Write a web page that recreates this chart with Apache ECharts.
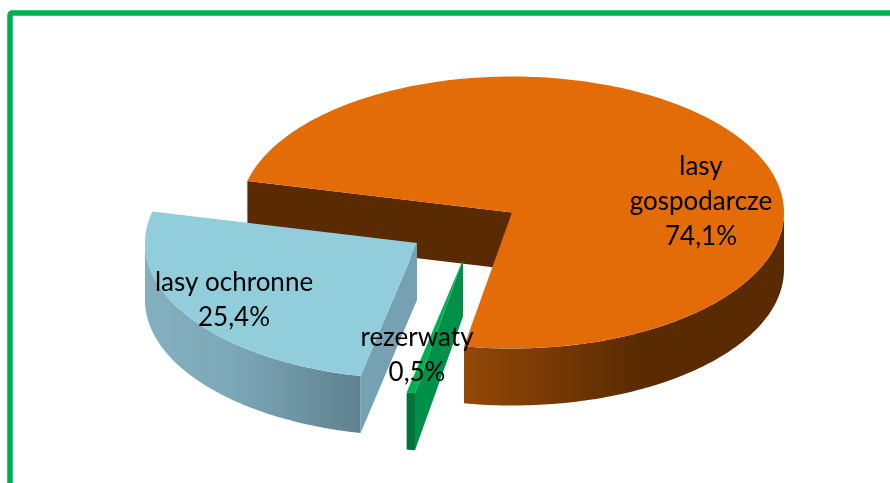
<!DOCTYPE html>
<html>
<head>
<meta charset="utf-8">
<style>html,body{margin:0;padding:0;background:#fff}#c{width:890px;height:483px}</style>
<script src="https://cdn.jsdelivr.net/npm/echarts@6/dist/echarts.min.js"></script>
</head>
<body>
<div id="c"></div>
<script>
// Data (clockwise from the cut at the upper left)
var categories = ['lasy\ngospodarcze', 'rezerwaty', 'lasy ochronne'];
var shares = [74.1, 0.5, 25.4];

// Layout and style
var cx = 512, cy = 212.5, rx = 272, ry = 136, depth = 57, startDeg = 283.4;
var offsets = [[0, 0], [-49, 47], [-95, 30.5]];
var labelCentres = [[701, 202], [417, 355], [234, 300]];
var topColors = ['#E36C09', '#00B050', '#92CDDC'];
var cutColors = ['#5A2A03', '#00904A', '#76A1B2'];
var wallStops = [
  [{ offset: 0, color: '#934808' }, { offset: 0.55, color: '#5A2A03' }, { offset: 1, color: '#5A2A03' }],
  [{ offset: 0, color: '#00733A' }, { offset: 1, color: '#00733A' }],
  [{ offset: 0, color: '#84AFBF' }, { offset: 0.4, color: '#7DA8B8' }, { offset: 1, color: '#5E828F' }]
];

var chart = echarts.init(document.getElementById('c'));

function pt(ox, oy, deg, dz) {
  var a = deg * Math.PI / 180;
  return [ox + rx * Math.sin(a), oy - ry * Math.cos(a) + (dz || 0)];
}
function arc(ox, oy, from, to, dz) {
  var pts = [], n = Math.max(2, Math.ceil(Math.abs(to - from)));
  for (var k = 0; k <= n; k++) pts.push(pt(ox, oy, from + (to - from) * k / n, dz));
  return pts;
}
function sliceAngles(i) {
  var total = shares.reduce(function (s, v) { return s + v; }, 0), a = startDeg;
  for (var k = 0; k < i; k++) a += shares[k] / total * 360;
  return [a, a + shares[i] / total * 360];
}
function renderSlice(params, api) {
  var i = params.dataIndex;
  var ang = sliceAngles(i), s = ang[0], e = ang[1];
  var ox = cx + offsets[i][0], oy = cy + offsets[i][1];
  var kids = [];
  // curved wall: only the part facing the viewer
  for (var c = 0; c < 2; c++) {
    var lo = Math.max(s, 90 + c * 360), hi = Math.min(e, 270 + c * 360);
    if (hi > lo) {
      var top = arc(ox, oy, lo, hi, 0), bot = arc(ox, oy, hi, lo, depth);
      kids.push({
        type: 'polygon', shape: { points: top.concat(bot) },
        style: { fill: new echarts.graphic.LinearGradient(0, 0, 1, 0, wallStops[i]) }
      });
    }
  }
  // cut faces
  [[s, -1], [e, 1]].forEach(function (edge) {
    var a = edge[0] * Math.PI / 180;
    if (edge[1] * Math.sin(a) > 0) {
      var p = pt(ox, oy, edge[0], 0);
      kids.push({
        type: 'polygon',
        shape: { points: [[ox, oy], p, [p[0], p[1] + depth], [ox, oy + depth]] },
        style: { fill: cutColors[i] }
      });
    }
  });
  // top face
  kids.push({
    type: 'polygon', shape: { points: [[ox, oy]].concat(arc(ox, oy, s, e, 0)) },
    style: { fill: topColors[i] }
  });
  return { type: 'group', children: kids };
}
function renderLabel(params, api) {
  var i = params.dataIndex;
  return {
    type: 'text',
    x: labelCentres[i][0], y: labelCentres[i][1],
    style: {
      text: categories[i] + '\n' + api.value(0).toFixed(1).replace('.', ',') + '%',
      fontFamily: 'Lato', fontSize: 26, lineHeight: 35,
      fill: '#000', align: 'center', verticalAlign: 'middle'
    }
  };
}
var seriesData = shares.map(function (v) { return [v]; });
chart.setOption({
  animation: false,
  backgroundColor: '#fff',
  graphic: [{
    type: 'rect', z: 0, silent: true,
    shape: { x: 10, y: 13, width: 1000, height: 1000, r: 2 },
    style: { fill: 'none', stroke: '#00B050', lineWidth: 5.5 }
  }],
  series: [
    { type: 'custom', coordinateSystem: 'none', silent: true, z: 2, data: seriesData, renderItem: renderSlice },
    { type: 'custom', coordinateSystem: 'none', silent: true, z: 3, data: seriesData, renderItem: renderLabel }
  ]
});
</script>
</body>
</html>
